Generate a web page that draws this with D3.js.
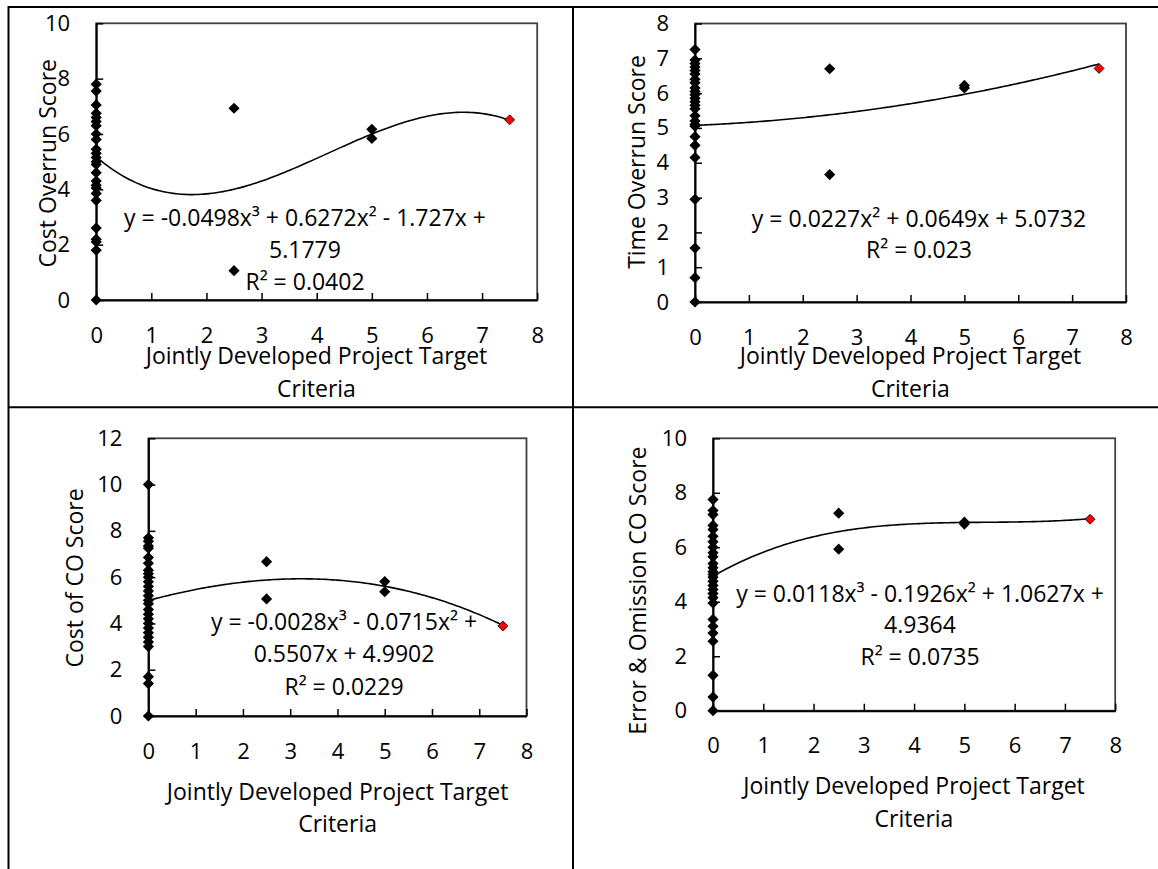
<!DOCTYPE html>
<html>
<head>
<meta charset="utf-8">
<script src="https://cdn.jsdelivr.net/npm/d3@7"></script>
<style>
  body { margin: 0; background: #fff; }
  svg { display: block; }
  text { font-family: "Open Sans", sans-serif; fill: #000; }
</style>
</head>
<body>
<svg id="chart" width="1158" height="869"></svg>
<script>
// ---- shared x axis ----
const xTicks = [0, 1, 2, 3, 4, 5, 6, 7, 8];
const xTitleLines = ["Jointly Developed Project Target", "Criteria"];

// ---- Cost Overrun Score ----
const costOverrunAtZero = [7.8, 7.55, 7.05, 6.75, 6.6, 6.45, 6.3, 6.0, 5.8, 5.45, 5.3, 5.15, 5.0, 4.9, 4.6, 4.3, 4.15, 4.05, 3.85, 3.6, 2.6, 2.2, 2.1, 1.8, 0];
const costOverrunOthers = [[2.5, 6.93], [2.5, 1.06], [5, 6.17], [5, 5.84]];
const costOverrunHighlight = [7.5, 6.51];
const costOverrunFit = [5.1779, -1.727, 0.6272, -0.0498];
const costOverrunLabel = ["y = -0.0498x³ + 0.6272x² - 1.727x +", "5.1779", "R² = 0.0402"];
const costOverrunYTicks = [0, 2, 4, 6, 8, 10];

// ---- Time Overrun Score ----
const timeOverrunAtZero = [7.25, 6.95, 6.85, 6.75, 6.65, 6.55, 6.4, 6.3, 6.15, 6.05, 5.95, 5.85, 5.75, 5.65, 5.55, 5.35, 5.2, 5.1, 5.05, 4.75, 4.5, 4.15, 2.95, 1.55, 0.7, 0];
const timeOverrunOthers = [[2.5, 6.70], [2.5, 3.66], [5, 6.22], [5, 6.15]];
const timeOverrunHighlight = [7.5, 6.71];
const timeOverrunFit = [5.0732, 0.0649, 0.0227];
const timeOverrunLabel = ["y = 0.0227x² + 0.0649x + 5.0732", "R² = 0.023"];
const timeOverrunYTicks = [0, 1, 2, 3, 4, 5, 6, 7, 8];

// ---- Cost of CO Score ----
const costOfCOAtZero = [10, 7.7, 7.55, 7.35, 7.25, 6.85, 6.6, 6.3, 6.15, 6.0, 5.8, 5.6, 5.4, 5.2, 5.0, 4.85, 4.6, 4.4, 4.2, 4.0, 3.8, 3.6, 3.4, 3.2, 3.0, 1.7, 1.4, 0];
const costOfCOOthers = [[2.5, 6.67], [2.5, 5.06], [5, 5.81], [5, 5.37]];
const costOfCOHighlight = [7.5, 3.89];
const costOfCOFit = [4.9902, 0.5507, -0.0715, -0.0028];
const costOfCOLabel = ["y = -0.0028x³ - 0.0715x² +", "0.5507x + 4.9902", "R² = 0.0229"];
const costOfCOYTicks = [0, 2, 4, 6, 8, 10, 12];

// ---- Error & Omission CO Score ----
const errorOmissionAtZero = [7.75, 7.35, 7.2, 6.8, 6.65, 6.4, 6.2, 6.0, 5.8, 5.65, 5.4, 5.25, 5.1, 5.0, 4.9, 4.75, 4.6, 4.45, 4.3, 4.15, 3.95, 3.35, 3.1, 2.85, 2.55, 1.3, 0.5, 0];
const errorOmissionOthers = [[2.5, 7.25], [2.5, 5.93], [5, 6.92], [5, 6.85]];
const errorOmissionHighlight = [7.5, 7.03];
const errorOmissionFit = [4.9364, 1.0627, -0.1926, 0.0118];
const errorOmissionLabel = ["y = 0.0118x³ - 0.1926x² + 1.0627x +", "4.9364", "R² = 0.0735"];
const errorOmissionYTicks = [0, 2, 4, 6, 8, 10];

// ---- panel layout ----
const panels = [
  { yTitle: "Cost Overrun Score", atZero: costOverrunAtZero, others: costOverrunOthers,
    highlight: costOverrunHighlight, fit: costOverrunFit, label: costOverrunLabel, yTicks: costOverrunYTicks,
    box: { left: 96.2, right: 537.2, top: 23.3, bottom: 300 },
    xTitle: { cx: 316.5, y: [364, 396.5] }, yTitleAt: { x: 55.5, cy: 163.3 },
    labelAt: { cx: 305, y: [226, 258, 290] } },
  { yTitle: "Time Overrun Score", atZero: timeOverrunAtZero, others: timeOverrunOthers,
    highlight: timeOverrunHighlight, fit: timeOverrunFit, label: timeOverrunLabel, yTicks: timeOverrunYTicks,
    box: { left: 695, right: 1126, top: 23.5, bottom: 302 },
    xTitle: { cx: 910.5, y: [364, 397] }, yTitleAt: { x: 644.6, cy: 162 },
    labelAt: { cx: 919, y: [226.7, 258] } },
  { yTitle: "Cost of CO Score", atZero: costOfCOAtZero, others: costOfCOOthers,
    highlight: costOfCOHighlight, fit: costOfCOFit, label: costOfCOLabel, yTicks: costOfCOYTicks,
    box: { left: 148.4, right: 526.5, top: 438.3, bottom: 716 },
    xTitle: { cx: 337.6, y: [800, 831.7] }, yTitleAt: { x: 83.2, cy: 578 },
    labelAt: { cx: 344, y: [630, 662, 695] } },
  { yTitle: "Error & Omission CO Score", atZero: errorOmissionAtZero, others: errorOmissionOthers,
    highlight: errorOmissionHighlight, fit: errorOmissionFit, label: errorOmissionLabel, yTicks: errorOmissionYTicks,
    box: { left: 713, right: 1115.2, top: 438.3, bottom: 710.7 },
    xTitle: { cx: 914, y: [794, 826.7] }, yTitleAt: { x: 646.4, cy: 590.7 },
    labelAt: { cx: 920, y: [601.7, 633.3, 665] } }
];

const svg = d3.select("#chart");
const FONT = 23;
const TICK_FONT = 22;

// table grid around the four panels
const grid = svg.append("g").attr("stroke", "#000").attr("stroke-width", 2);
grid.append("line").attr("x1", 8).attr("x2", 1158).attr("y1", 7).attr("y2", 7);
grid.append("line").attr("x1", 8).attr("x2", 1158).attr("y1", 407.3).attr("y2", 407.3);
grid.append("line").attr("x1", 8.5).attr("x2", 8.5).attr("y1", 6).attr("y2", 869);
grid.append("line").attr("x1", 573).attr("x2", 573).attr("y1", 6).attr("y2", 869);

const diamond = r => `M0,${-r}L${r},0L0,${r}L${-r},0Z`;
const poly = (c, x) => c.reduce((s, k, i) => s + k * Math.pow(x, i), 0);

panels.forEach(p => {
  const b = p.box;
  const yMax = d3.max(p.yTicks);
  const x = d3.scaleLinear().domain([0, 8]).range([b.left, b.right]);
  const y = d3.scaleLinear().domain([0, yMax]).range([b.bottom, b.top]);
  const g = svg.append("g");

  // plot area frame
  g.append("rect")
    .attr("x", b.left).attr("y", b.top)
    .attr("width", b.right - b.left).attr("height", b.bottom - b.top)
    .attr("fill", "none").attr("stroke", "#404040").attr("stroke-width", 1.8);

  // y axis: ticks point inward, labels on the left
  const yAxis = d3.axisLeft(y).tickValues(p.yTicks).tickSizeInner(-7).tickSizeOuter(0).tickPadding(26);
  const ya = g.append("g").attr("transform", `translate(${b.left},0)`).call(yAxis);
  ya.select(".domain").attr("stroke", "#000").attr("stroke-width", 2);
  ya.selectAll(".tick line").attr("stroke", "#000").attr("stroke-width", 1.5);
  ya.selectAll(".tick text").attr("font-size", TICK_FONT).attr("fill", "#000")
    .attr("font-family", "Open Sans, sans-serif");

  // x axis: ticks point inward, labels below
  const xAxis = d3.axisBottom(x).tickValues(xTicks).tickSizeInner(-7).tickSizeOuter(0).tickPadding(27);
  const xa = g.append("g").attr("transform", `translate(0,${b.bottom})`).call(xAxis);
  xa.select(".domain").attr("stroke", "#000").attr("stroke-width", 2);
  xa.selectAll(".tick line").attr("stroke", "#000").attr("stroke-width", 1.5);
  xa.selectAll(".tick text").attr("font-size", TICK_FONT).attr("fill", "#000")
    .attr("font-family", "Open Sans, sans-serif");

  // axis titles
  g.selectAll(".xtitle").data(xTitleLines).join("text")
    .attr("x", p.xTitle.cx).attr("y", (d, i) => p.xTitle.y[i])
    .attr("text-anchor", "middle").attr("font-size", FONT).text(d => d);
  g.append("text")
    .attr("transform", `translate(${p.yTitleAt.x},${p.yTitleAt.cy}) rotate(-90)`)
    .attr("text-anchor", "middle").attr("font-size", FONT).text(p.yTitle);

  // scatter points
  const pts = p.atZero.map(v => [0, v]).concat(p.others);
  g.selectAll(".pt").data(pts).join("path")
    .attr("d", diamond(5.6))
    .attr("transform", d => `translate(${x(d[0])},${y(d[1])})`)
    .attr("fill", "#000");

  // polynomial trendline over the data range
  const xs = d3.range(0, 7.5001, 0.05);
  const line = d3.line().x(d => x(d)).y(d => y(poly(p.fit, d)));
  g.append("path").datum(xs).attr("d", line)
    .attr("fill", "none").attr("stroke", "#000").attr("stroke-width", 1.6);

  // highlighted point
  g.append("path")
    .attr("d", diamond(5))
    .attr("transform", `translate(${x(p.highlight[0])},${y(p.highlight[1])})`)
    .attr("fill", "#ff0000").attr("stroke", "#000").attr("stroke-width", 0.8);

  // trendline equation label
  g.selectAll(".eq").data(p.label).join("text")
    .attr("x", p.labelAt.cx).attr("y", (d, i) => p.labelAt.y[i])
    .attr("text-anchor", "middle").attr("font-size", FONT).text(d => d);
});
</script>
</body>
</html>
